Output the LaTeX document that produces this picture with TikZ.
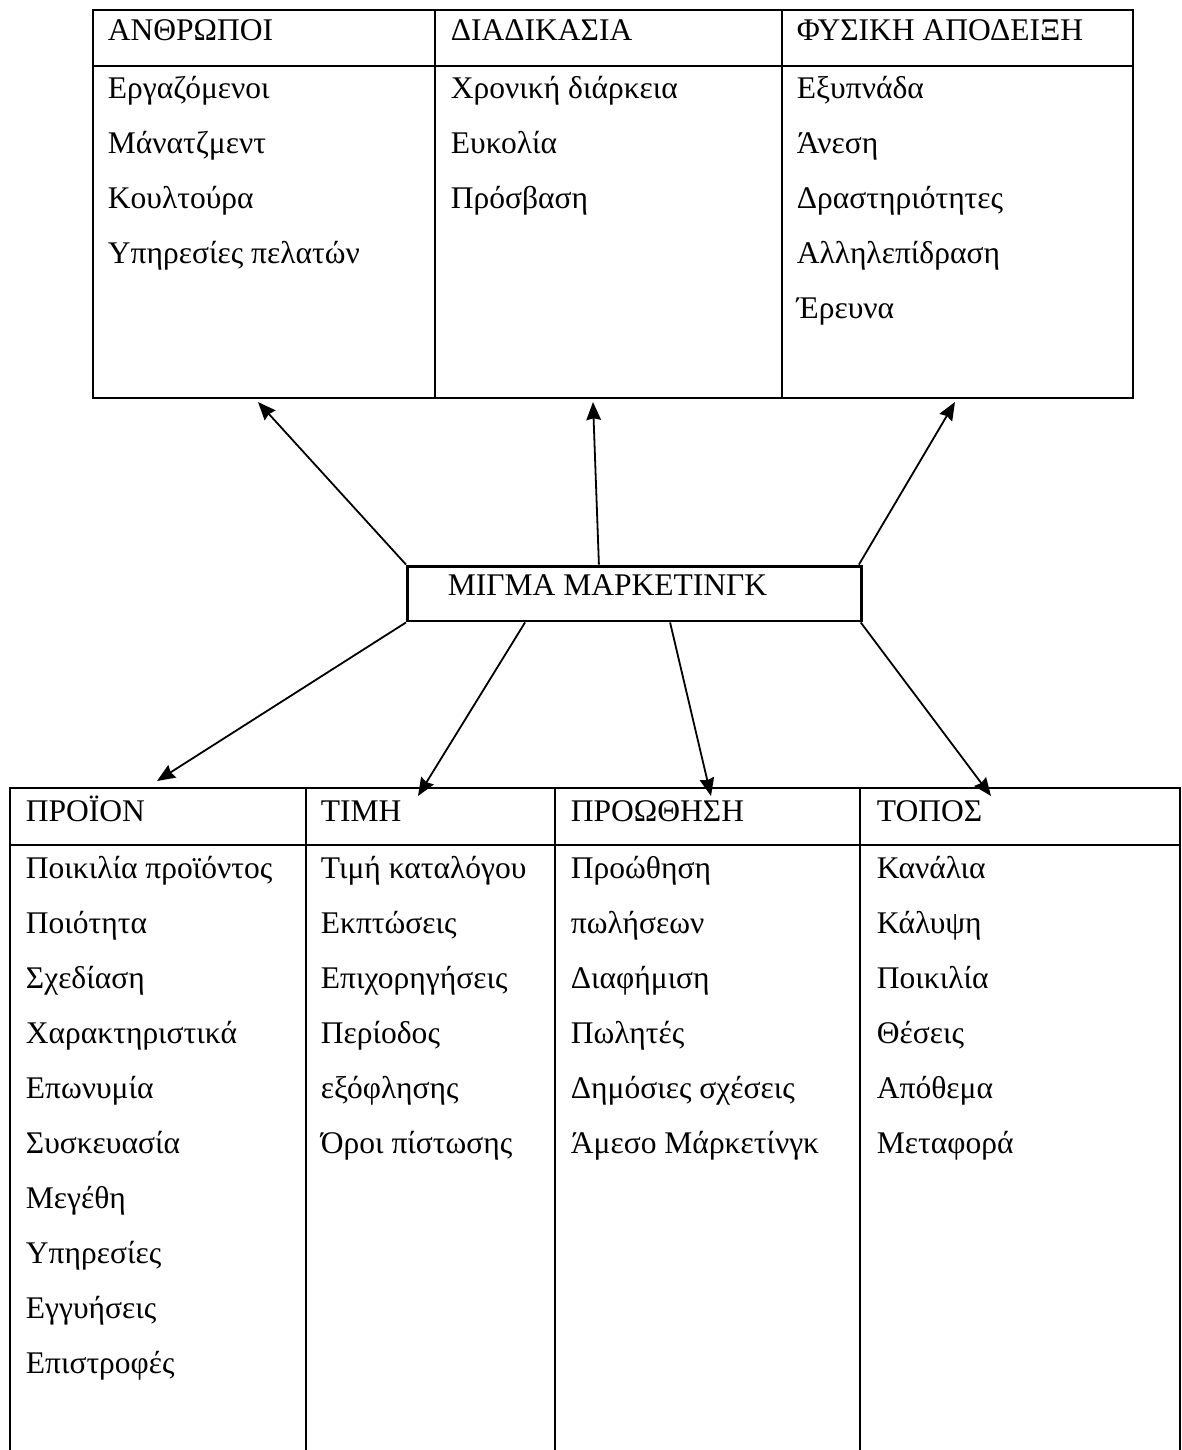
\documentclass[tikz,border=0pt]{standalone}
\usepackage{fontspec}
\setmainfont{Liberation Serif}
\usetikzlibrary{positioning,arrows.meta}

\begin{document}
\begin{tikzpicture}[x=0.444pt, y=-0.444pt,
    ->,
    >={Stealth[length=8pt,width=6.5pt,inset=0.8pt]},
    line width=0.8pt,
    frame/.style={%
      draw=black, line width=1.3pt, -
    },
    rule/.style={%
      draw=black, line width=0.9pt, -
    },
    txt/.style={%
      anchor=base west, inner sep=0pt, font=\fontsize{14}{16}\selectfont
    },
    mixbox/.style={%
      rectangle, draw=black, line width=1.3pt, fill=white,
      minimum width=201.6pt, minimum height=24.4pt, inner sep=0pt
    }
]
    \useasboundingbox (0,0) rectangle (1182,1450);

    % top table
    \draw[frame] (93,10) rectangle (1133,398);
    \draw[rule] (93,66) -- (1133,66);
    \draw[rule] (435,10) -- (435,398);
    \draw[rule] (782,10) -- (782,398);

    \node[txt] (p0) at (107,40)  {ΑΝΘΡΩΠΟΙ};
    \node[txt] (p1) at (107,98)  {Εργαζόμενοι};
    \node[txt] (p2) at (107,153) {Μάνατζμεντ};
    \node[txt] (p3) at (107,208) {Κουλτούρα};
    \node[txt] (p4) at (107,263) {Υπηρεσίες πελατών};

    \node[txt] (d0) at (450,40)  {ΔΙΑΔΙΚΑΣΙΑ};
    \node[txt] (d1) at (450,98)  {Χρονική διάρκεια};
    \node[txt] (d2) at (450,153) {Ευκολία};
    \node[txt] (d3) at (450,208) {Πρόσβαση};

    \node[txt] (f0) at (796,40)  {ΦΥΣΙΚΗ ΑΠΟΔΕΙΞΗ};
    \node[txt] (f1) at (796,98)  {Εξυπνάδα};
    \node[txt] (f2) at (796,153) {Άνεση};
    \node[txt] (f3) at (796,208) {Δραστηριότητες};
    \node[txt] (f4) at (796,263) {Αλληλεπίδραση};
    \node[txt] (f5) at (796,318) {Έρευνα};

    % middle box
    \node[mixbox] (mix) at (634.5,593.5) {};
    \node[txt] (mixtxt) at (447,595) {ΜΙΓΜΑ ΜΑΡΚΕΤΙΝΓΚ};

    % bottom table
    \draw[frame] (1180,1450) -- (1180,788) -- (10,788) -- (10,1450);
    \draw[rule] (10,845) -- (1180,845);
    \draw[rule] (306,788) -- (306,1450);
    \draw[rule] (555,788) -- (555,1450);
    \draw[rule] (860,788) -- (860,1450);

    \node[txt] (a0)  at (25,821)  {ΠΡΟΪΟΝ};
    \node[txt] (a1)  at (25,878)  {Ποικιλία προϊόντος};
    \node[txt] (a2)  at (25,933)  {Ποιότητα};
    \node[txt] (a3)  at (25,988)  {Σχεδίαση};
    \node[txt] (a4)  at (25,1043) {Χαρακτηριστικά};
    \node[txt] (a5)  at (25,1098) {Επωνυμία};
    \node[txt] (a6)  at (25,1153) {Συσκευασία};
    \node[txt] (a7)  at (25,1208) {Μεγέθη};
    \node[txt] (a8)  at (25,1263) {Υπηρεσίες};
    \node[txt] (a9)  at (25,1318) {Εγγυήσεις};
    \node[txt] (a10) at (25,1373) {Επιστροφές};

    \node[txt] (t0) at (320,821)  {ΤΙΜΗ};
    \node[txt] (t1) at (320,878)  {Τιμή καταλόγου};
    \node[txt] (t2) at (320,933)  {Εκπτώσεις};
    \node[txt] (t3) at (320,988)  {Επιχορηγήσεις};
    \node[txt] (t4) at (320,1043) {Περίοδος};
    \node[txt] (t5) at (320,1098) {εξόφλησης};
    \node[txt] (t6) at (320,1153) {Όροι πίστωσης};

    \node[txt] (r0) at (570,821)  {ΠΡΟΩΘΗΣΗ};
    \node[txt] (r1) at (570,878)  {Προώθηση};
    \node[txt] (r2) at (570,933)  {πωλήσεων};
    \node[txt] (r3) at (570,988)  {Διαφήμιση};
    \node[txt] (r4) at (570,1043) {Πωλητές};
    \node[txt] (r5) at (570,1098) {Δημόσιες σχέσεις};
    \node[txt] (r6) at (570,1153) {Άμεσο Μάρκετίνγκ};

    \node[txt] (s0) at (876,821)  {ΤΟΠΟΣ};
    \node[txt] (s1) at (876,878)  {Κανάλια};
    \node[txt] (s2) at (876,933)  {Κάλυψη};
    \node[txt] (s3) at (876,988)  {Ποικιλία};
    \node[txt] (s4) at (876,1043) {Θέσεις};
    \node[txt] (s5) at (876,1098) {Απόθεμα};
    \node[txt] (s6) at (876,1153) {Μεταφορά};

    % arrow ends
    \coordinate (toppl)   at (258,402);
    \coordinate (toproc)  at (593,402);
    \coordinate (tophys)  at (955,402);
    \coordinate (toprod)  at (157,781);
    \coordinate (toprice) at (418,796);
    \coordinate (toprom)  at (711,796);
    \coordinate (toplace) at (991,796);

    \path (mix.north west)                edge (toppl)
          ([xshift=-15.8pt]mix.north)     edge (toproc)
          ([xshift=-1.8pt]mix.north east) edge (tophys)
          (mix.south west)                edge (toprod)
          ([xshift=-48.6pt]mix.south)     edge (toprice)
          ([xshift=15.8pt]mix.south)      edge (toprom)
          ([xshift=-1pt]mix.south east)   edge (toplace)
    ;

\end{tikzpicture}
\end{document}
